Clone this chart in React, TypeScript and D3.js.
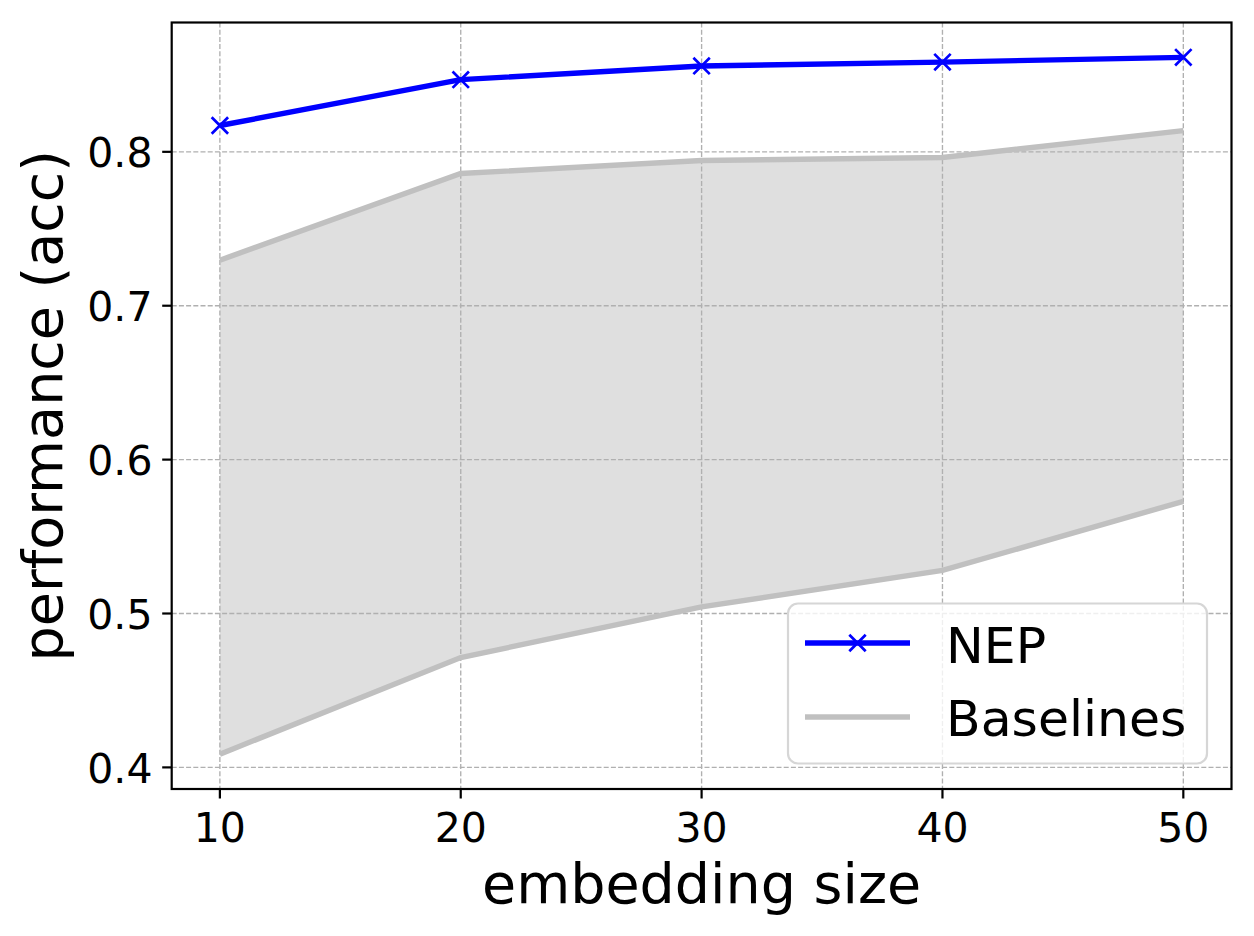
import React from "react";
import * as d3 from "d3";

const embeddingSizes = [10, 20, 30, 40, 50];
const nepAcc = [0.8171, 0.8469, 0.8558, 0.8583, 0.8614];
const baselineUpper = [0.7296, 0.7859, 0.7944, 0.7963, 0.8138];
const baselineLower = [0.4086, 0.4714, 0.5043, 0.528, 0.5729];
const xTicks = [10, 20, 30, 40, 50];
const yTicks = [0.4, 0.5, 0.6, 0.7, 0.8];
const seriesNames = ["NEP", "Baselines"];

const W = 1254;
const H = 936;
const M = { left: 171.7, right: 1231.5, top: 22.5, bottom: 789 };
const FONT = "'DejaVu Sans', sans-serif";

export default function App() {
  const x = d3.scaleLinear().domain([8, 52]).range([M.left, M.right]);
  const allY = [...nepAcc, ...baselineUpper, ...baselineLower];
  const yMin = d3.min(allY)!;
  const yMax = d3.max(allY)!;
  const pad = (yMax - yMin) * 0.05;
  const y = d3.scaleLinear().domain([yMin - pad, yMax + pad]).range([M.bottom, M.top]);

  const pts = embeddingSizes.map((s, i) => ({ s, nep: nepAcc[i], up: baselineUpper[i], lo: baselineLower[i] }));
  const area = d3.area<typeof pts[0]>().x((d) => x(d.s)).y0((d) => y(d.lo)).y1((d) => y(d.up));
  const line = (key: "nep" | "up" | "lo") => d3.line<typeof pts[0]>().x((d) => x(d.s)).y((d) => y(d[key]))(pts)!;

  const ms = 8.2;
  const cross = (cx: number, cy: number, k: string) => (
    <path key={k} d={`M${cx - ms},${cy - ms}L${cx + ms},${cy + ms}M${cx - ms},${cy + ms}L${cx + ms},${cy - ms}`} stroke="#0000ff" strokeWidth={2.7} fill="none" />
  );

  const grid = { stroke: "#b0b0b0", strokeWidth: 1.36, strokeDasharray: "5 2.2" };

  return (
    <div style={{ position: "absolute", left: 0, top: 0 }}>
      <svg width={W} height={H} style={{ display: "block", background: "#fff" }} fontFamily={FONT}>
        <rect x={0} y={0} width={W} height={H} fill="#fff" />
        <path d={area(pts)!} fill="#c0c0c0" fillOpacity={0.5} stroke="none" />
        {/* grid */}
        {xTicks.map((t) => (
          <line key={"gx" + t} x1={x(t)} x2={x(t)} y1={M.top} y2={M.bottom} {...grid} />
        ))}
        {yTicks.map((t) => (
          <line key={"gy" + t} x1={M.left} x2={M.right} y1={y(t)} y2={y(t)} {...grid} />
        ))}
        <path d={line("up")} fill="none" stroke="#c0c0c0" strokeWidth={5.4} />
        <path d={line("lo")} fill="none" stroke="#c0c0c0" strokeWidth={5.4} />
        <path d={line("nep")} fill="none" stroke="#0000ff" strokeWidth={5.4} strokeLinejoin="round" />
        {pts.map((d, i) => cross(x(d.s), y(d.nep), "m" + i))}
        {/* spines */}
        <rect x={M.left} y={M.top} width={M.right - M.left} height={M.bottom - M.top} fill="none" stroke="#000" strokeWidth={2.2} />
        {/* ticks */}
        {xTicks.map((t) => (
          <g key={"xt" + t}>
            <line x1={x(t)} x2={x(t)} y1={M.bottom} y2={M.bottom + 9.5} stroke="#000" strokeWidth={2.2} />
            <text x={x(t)} y={842} textAnchor="middle" fontSize={41} fill="#000">{t}</text>
          </g>
        ))}
        {yTicks.map((t) => (
          <g key={"yt" + t}>
            <line x1={M.left - 9.5} x2={M.left} y1={y(t)} y2={y(t)} stroke="#000" strokeWidth={2.2} />
            <text x={152.5} y={y(t)} dy="0.37em" textAnchor="end" fontSize={41} fill="#000">{t.toFixed(1)}</text>
          </g>
        ))}
        <text x={(M.left + M.right) / 2} y={903} textAnchor="middle" fontSize={55.5} fill="#000">embedding size</text>
        <text transform={`translate(62,${(M.top + M.bottom) / 2}) rotate(-90)`} textAnchor="middle" fontSize={55.5} fill="#000">performance (acc)</text>
        {/* legend */}
        <rect x={788} y={603.5} width={419} height={160} rx={10} ry={10} fill="#fff" fillOpacity={0.8} stroke="#d6d6d6" strokeWidth={2.2} />
        <line x1={805} x2={910} y1={643} y2={643} stroke="#0000ff" strokeWidth={5.4} />
        {cross(857.5, 643, "lm")}
        <text x={946} y={662.7} fontSize={50.5} fill="#000">{seriesNames[0]}</text>
        <line x1={805} x2={910} y1={717} y2={717} stroke="#c0c0c0" strokeWidth={5.4} />
        <text x={946} y={735.7} fontSize={50.5} fill="#000">{seriesNames[1]}</text>
      </svg>
    </div>
  );
}
